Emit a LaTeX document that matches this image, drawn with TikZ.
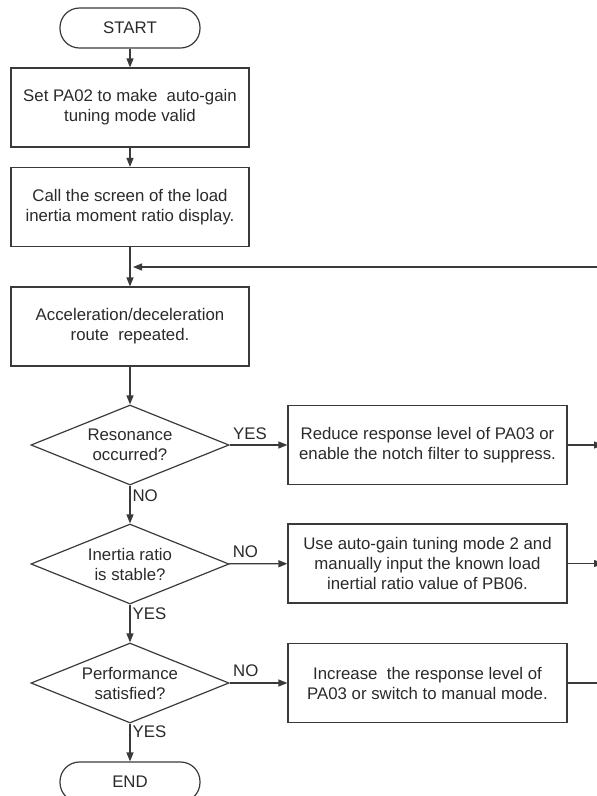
\documentclass[tikz,border=0pt]{standalone}
\usepackage{fontspec}
\setmainfont{Liberation Sans}
\usetikzlibrary{arrows.meta,shapes.geometric}
\definecolor{ink}{HTML}{3A3A3A}
\definecolor{txt}{HTML}{2A2A2A}
\begin{document}
\begin{tikzpicture}[x=1pt,y=-1pt,
  every node/.style={text=txt,font=\fontsize{16.8}{20}\selectfont},
  terminal/.style={draw=ink,line width=1.2pt,rounded corners=19.5pt,
    minimum width=140pt,minimum height=40pt,inner sep=0pt},
  procbox/.style={draw=ink,line width=1.2pt,minimum width=#1,
    minimum height=79pt,inner sep=0pt,align=center},
  procbox/.default=238pt,
  decision/.style={diamond,aspect=2.475,draw=ink,line width=1.2pt,minimum width=198pt,
    minimum height=80pt,inner sep=0pt,align=center},
  flow/.style={draw=ink,line width=1.2pt,-{Triangle[length=9pt,width=7pt]}},
  plain/.style={draw=ink,line width=1.2pt},
  lbl/.style={inner sep=0pt}
]
\useasboundingbox (0,0) rectangle (597,796);
\clip (0,0) rectangle (597,796);

% main column
\node[terminal] (start) at (130,28) {START};
\node[procbox] (set) at (130,107.5) {Set PA02 to make\ \ auto-gain\\tuning mode valid};
\node[procbox] (call) at (130,207) {Call the screen of the load\\inertia moment ratio display.};
\node[procbox] (accel) at (130,326.5) {Acceleration/deceleration\\route\ \ repeated.};
\node[decision] (reson) at (130,445) {Resonance\\occurred?};
\node[decision] (stable) at (130,564) {Inertia ratio\\is stable?};
\node[decision] (perf) at (130,683) {Performance\\satisfied?};
\node[terminal] (end) at (130,782) {END};

% corrective actions
\node[procbox=279pt] (reduce) at (427.5,445) {Reduce response level of PA03 or\\enable the notch filter to suppress.};
\node[procbox=279pt] (manual) at (427.5,563.5) {Use auto-gain tuning mode 2 and\\manually input the known load\\inertial ratio value of PB06.};
\node[procbox=279pt] (incr) at (427.5,683) {Increase\ \ the response level of\\PA03 or switch to manual mode.};

% return rail on the right and its junction with the main column
\coordinate (railA) at (603,445);
\coordinate (railB) at (603,563.5);
\coordinate (railC) at (603,683);
\coordinate (railTop) at (603,267);
\coordinate (join) at (130,267);

% main flow
\draw[flow] (start) -- (set);
\draw[flow] (set) -- (call);
\draw[flow] (call) -- (accel);
\draw[flow] (accel) -- (reson);
\draw[flow] (reson) -- node[lbl,pos=0,anchor=north west,xshift=2pt,yshift=-4pt]{NO} (stable);
\draw[flow] (stable) -- node[lbl,pos=0,anchor=north west,xshift=2pt,yshift=-3pt]{YES} (perf);
\draw[flow] (perf) -- node[lbl,pos=0,anchor=north west,xshift=2pt,yshift=-2pt]{YES} (end);

% branches
\draw[flow] (reson) -- node[lbl,pos=0,anchor=base west,xshift=3pt,yshift=6pt]{YES} (reduce);
\draw[flow] (stable) -- node[lbl,pos=0,anchor=base west,xshift=3pt,yshift=6pt]{NO} (manual);
\draw[flow] (perf) -- node[lbl,pos=0,anchor=base west,xshift=3pt,yshift=7pt]{NO} (incr);

% back to the acceleration step
\draw[flow] (reduce) -- (railA);
\draw[flow] (manual) -- (railB);
\draw[plain] (incr) -- (railC) -- (railTop);
\draw[flow,shorten >=3pt] (railTop) -- (join);
\end{tikzpicture}
\end{document}
